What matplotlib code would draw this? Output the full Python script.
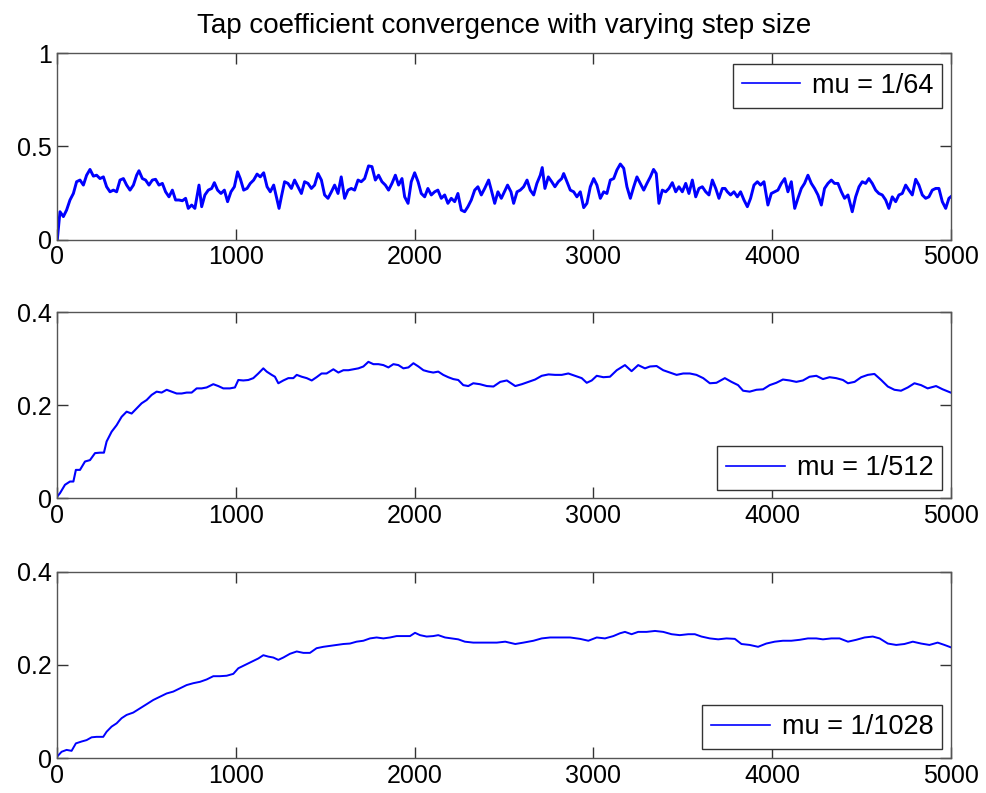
import numpy as np
import matplotlib
matplotlib.use("Agg")
import matplotlib.pyplot as plt

plt.rcParams['font.family'] = ['Liberation Sans', 'DejaVu Sans']

# ------------------------------------------
# data (iteration, tap value)
# ------------------------------------------
x_fast = [0, 15, 34, 52, 71, 90, 108, 127, 146, 164, 183, 202, 220, 239, 258, 276, 295, 314,
          332, 351, 370, 388, 407, 426, 444, 457, 476, 494, 513, 532, 550, 569, 588, 606, 625,
          644, 662, 681, 700, 718, 733, 752, 770, 793, 808, 826, 845, 864, 879, 897, 916, 935,
          953, 972, 991, 1009, 1024, 1043, 1062, 1080, 1099, 1118, 1136, 1155, 1174, 1192,
          1211, 1230, 1241, 1254, 1272, 1291, 1310, 1328, 1347, 1366, 1384, 1403, 1422, 1440,
          1459, 1478, 1496, 1515, 1534, 1552, 1571, 1589, 1608, 1627, 1645, 1664, 1683, 1701,
          1720, 1742, 1761, 1780, 1798, 1817, 1836, 1854, 1873, 1892, 1910, 1929, 1944, 1963,
          1981, 2000, 2019, 2037, 2056, 2074, 2093, 2112, 2130, 2149, 2168, 2186, 2205, 2224,
          2242, 2261, 2280, 2298, 2317, 2336, 2354, 2373, 2392, 2414, 2429, 2448, 2466, 2485,
          2502, 2520, 2539, 2554, 2573, 2591, 2610, 2629, 2647, 2666, 2684, 2703, 2714, 2729,
          2748, 2767, 2785, 2804, 2823, 2834, 2852, 2871, 2890, 2908, 2927, 2946, 2964, 2983,
          3002, 3020, 3039, 3058, 3076, 3095, 3114, 3132, 3151, 3170, 3188, 3207, 3226, 3244,
          3263, 3282, 3300, 3319, 3337, 3352, 3367, 3386, 3405, 3423, 3442, 3461, 3479, 3498,
          3517, 3535, 3554, 3573, 3591, 3610, 3629, 3647, 3666, 3685, 3703, 3722, 3737, 3750,
          3768, 3787, 3806, 3824, 3843, 3862, 3880, 3899, 3918, 3936, 3955, 3977, 3996, 4015,
          4033, 4052, 4071, 4089, 4108, 4127, 4145, 4164, 4182, 4201, 4220, 4238, 4257, 4276,
          4294, 4313, 4332, 4350, 4369, 4388, 4406, 4425, 4449, 4468, 4487, 4505, 4524, 4542,
          4561, 4580, 4598, 4617, 4636, 4654, 4673, 4692, 4710, 4729, 4748, 4766, 4785, 4804,
          4822, 4841, 4860, 4878, 4897, 4916, 4934, 4953, 4972, 4990, 5000]
y_fast = [0.0, 0.15, 0.124, 0.159, 0.213, 0.248, 0.311, 0.320, 0.293, 0.346, 0.377, 0.341,
          0.346, 0.328, 0.337, 0.284, 0.257, 0.266, 0.257, 0.320, 0.328, 0.293, 0.266, 0.293,
          0.346, 0.370, 0.328, 0.320, 0.293, 0.320, 0.324, 0.293, 0.302, 0.257, 0.230, 0.266,
          0.213, 0.213, 0.209, 0.222, 0.168, 0.186, 0.168, 0.293, 0.177, 0.240, 0.266, 0.275,
          0.306, 0.266, 0.248, 0.266, 0.204, 0.257, 0.284, 0.364, 0.328, 0.266, 0.275, 0.302,
          0.320, 0.352, 0.337, 0.359, 0.284, 0.257, 0.293, 0.213, 0.168, 0.230, 0.311, 0.302,
          0.275, 0.320, 0.284, 0.248, 0.311, 0.302, 0.275, 0.293, 0.355, 0.320, 0.240, 0.222,
          0.257, 0.293, 0.248, 0.337, 0.222, 0.266, 0.275, 0.266, 0.320, 0.311, 0.328, 0.396,
          0.392, 0.320, 0.346, 0.311, 0.293, 0.266, 0.302, 0.346, 0.293, 0.328, 0.230, 0.195,
          0.311, 0.359, 0.311, 0.248, 0.230, 0.275, 0.240, 0.257, 0.266, 0.222, 0.240, 0.195,
          0.222, 0.204, 0.248, 0.159, 0.150, 0.177, 0.213, 0.266, 0.284, 0.240, 0.275, 0.320,
          0.266, 0.195, 0.257, 0.222, 0.257, 0.293, 0.257, 0.195, 0.257, 0.266, 0.284, 0.320,
          0.266, 0.240, 0.302, 0.346, 0.387, 0.275, 0.337, 0.311, 0.284, 0.311, 0.328, 0.355,
          0.311, 0.266, 0.257, 0.230, 0.257, 0.172, 0.195, 0.284, 0.328, 0.293, 0.222, 0.257,
          0.248, 0.320, 0.328, 0.374, 0.406, 0.383, 0.284, 0.222, 0.284, 0.337, 0.302, 0.266,
          0.302, 0.337, 0.377, 0.355, 0.195, 0.266, 0.257, 0.275, 0.306, 0.257, 0.284, 0.257,
          0.302, 0.248, 0.320, 0.230, 0.275, 0.284, 0.257, 0.240, 0.320, 0.275, 0.222, 0.275,
          0.275, 0.257, 0.240, 0.257, 0.230, 0.257, 0.213, 0.177, 0.222, 0.293, 0.311, 0.293,
          0.311, 0.186, 0.248, 0.257, 0.266, 0.302, 0.328, 0.257, 0.311, 0.168, 0.222, 0.275,
          0.302, 0.346, 0.302, 0.275, 0.240, 0.186, 0.275, 0.302, 0.320, 0.302, 0.302, 0.257,
          0.222, 0.240, 0.150, 0.230, 0.284, 0.311, 0.302, 0.328, 0.302, 0.266, 0.248, 0.240,
          0.213, 0.168, 0.230, 0.204, 0.240, 0.248, 0.293, 0.266, 0.240, 0.324, 0.293, 0.240,
          0.222, 0.230, 0.266, 0.275, 0.275, 0.204, 0.168, 0.222, 0.230]

x_mid = [0, 15, 43, 71, 90, 104, 127, 155, 183, 211, 239, 261, 276, 304, 332, 360, 388, 416,
         444, 472, 500, 528, 556, 584, 612, 640, 668, 696, 724, 752, 780, 808, 836, 873, 901,
         929, 966, 994, 1013, 1041, 1069, 1097, 1125, 1153, 1172, 1200, 1218, 1237, 1265, 1293,
         1321, 1340, 1368, 1396, 1424, 1451, 1479, 1507, 1545, 1573, 1601, 1629, 1657, 1685,
         1713, 1741, 1769, 1797, 1825, 1853, 1881, 1909, 1937, 1965, 1993, 2021, 2049, 2077,
         2104, 2132, 2160, 2188, 2216, 2244, 2272, 2300, 2328, 2365, 2404, 2441, 2479, 2516,
         2563, 2600, 2637, 2674, 2711, 2749, 2786, 2823, 2860, 2898, 2935, 2963, 2991, 3019,
         3056, 3093, 3131, 3177, 3214, 3251, 3289, 3317, 3354, 3391, 3428, 3466, 3503, 3540,
         3577, 3615, 3652, 3689, 3736, 3773, 3810, 3838, 3875, 3913, 3950, 3987, 4024, 4061,
         4099, 4136, 4173, 4210, 4248, 4285, 4322, 4359, 4397, 4425, 4462, 4499, 4536, 4573,
         4611, 4648, 4685, 4722, 4760, 4797, 4834, 4871, 4918, 4955, 5000]
y_mid = [0.004, 0.011, 0.029, 0.036, 0.036, 0.061, 0.061, 0.079, 0.082, 0.097, 0.098, 0.098,
         0.122, 0.143, 0.157, 0.175, 0.186, 0.182, 0.193, 0.204, 0.211, 0.222, 0.229, 0.227,
         0.233, 0.229, 0.225, 0.225, 0.227, 0.227, 0.236, 0.236, 0.238, 0.245, 0.241, 0.236,
         0.236, 0.238, 0.254, 0.253, 0.254, 0.258, 0.268, 0.279, 0.272, 0.265, 0.261, 0.247,
         0.253, 0.258, 0.258, 0.265, 0.261, 0.258, 0.253, 0.260, 0.268, 0.268, 0.277, 0.270,
         0.275, 0.275, 0.277, 0.279, 0.283, 0.293, 0.288, 0.288, 0.286, 0.281, 0.288, 0.286,
         0.279, 0.281, 0.290, 0.283, 0.275, 0.272, 0.270, 0.272, 0.265, 0.260, 0.256, 0.254,
         0.243, 0.241, 0.247, 0.245, 0.241, 0.240, 0.250, 0.253, 0.241, 0.245, 0.250, 0.255,
         0.263, 0.266, 0.265, 0.265, 0.268, 0.263, 0.258, 0.248, 0.253, 0.263, 0.260, 0.261,
         0.275, 0.286, 0.273, 0.286, 0.279, 0.283, 0.284, 0.275, 0.270, 0.265, 0.268, 0.268,
         0.265, 0.258, 0.247, 0.248, 0.258, 0.250, 0.243, 0.231, 0.229, 0.233, 0.234, 0.243,
         0.248, 0.255, 0.253, 0.250, 0.253, 0.261, 0.263, 0.256, 0.260, 0.258, 0.254, 0.247,
         0.250, 0.260, 0.265, 0.267, 0.254, 0.240, 0.233, 0.231, 0.238, 0.247, 0.243, 0.236,
         0.241, 0.234, 0.227]

x_slow = [0, 24, 52, 80, 104, 136, 164, 192, 220, 257, 276, 304, 332, 360, 388, 425, 463,
          500, 537, 575, 612, 649, 687, 724, 761, 799, 836, 873, 910, 948, 985, 1013, 1050,
          1088, 1125, 1153, 1181, 1209, 1237, 1265, 1302, 1340, 1377, 1414, 1451, 1489, 1526,
          1563, 1601, 1638, 1675, 1713, 1750, 1787, 1825, 1862, 1899, 1937, 1974, 2002, 2030,
          2067, 2104, 2132, 2170, 2207, 2244, 2281, 2328, 2375, 2414, 2460, 2507, 2563, 2609,
          2665, 2711, 2758, 2814, 2870, 2926, 2972, 3019, 3065, 3112, 3149, 3177, 3214, 3251,
          3298, 3345, 3391, 3438, 3484, 3531, 3568, 3605, 3652, 3699, 3745, 3792, 3829, 3875,
          3922, 3968, 4015, 4061, 4108, 4155, 4201, 4248, 4285, 4332, 4378, 4425, 4471, 4518,
          4564, 4602, 4648, 4695, 4741, 4788, 4834, 4881, 4927, 4965, 5000]
y_slow = [0.004, 0.014, 0.018, 0.016, 0.032, 0.036, 0.039, 0.045, 0.046, 0.046, 0.057, 0.068,
          0.075, 0.086, 0.093, 0.098, 0.107, 0.116, 0.125, 0.132, 0.139, 0.143, 0.150, 0.157,
          0.161, 0.164, 0.169, 0.176, 0.176, 0.177, 0.181, 0.193, 0.200, 0.207, 0.214, 0.221,
          0.218, 0.216, 0.211, 0.216, 0.224, 0.229, 0.226, 0.226, 0.236, 0.239, 0.241, 0.243,
          0.245, 0.246, 0.250, 0.252, 0.257, 0.259, 0.257, 0.259, 0.262, 0.262, 0.262, 0.269,
          0.264, 0.261, 0.262, 0.264, 0.259, 0.257, 0.255, 0.250, 0.248, 0.248, 0.248, 0.248,
          0.250, 0.245, 0.248, 0.252, 0.257, 0.259, 0.259, 0.259, 0.256, 0.252, 0.259, 0.257,
          0.262, 0.268, 0.271, 0.266, 0.271, 0.271, 0.273, 0.271, 0.266, 0.264, 0.266, 0.266,
          0.261, 0.257, 0.255, 0.257, 0.256, 0.245, 0.243, 0.239, 0.246, 0.250, 0.252, 0.252,
          0.254, 0.257, 0.257, 0.255, 0.257, 0.257, 0.250, 0.254, 0.259, 0.261, 0.257, 0.246,
          0.243, 0.245, 0.250, 0.246, 0.243, 0.248, 0.243, 0.238]

labels = ['mu = 1/64', 'mu = 1/512', 'mu = 1/1028']
ylims = [(0, 1), (0, 0.4), (0, 0.4)]
yticks = [[0, 0.5, 1], [0, 0.2, 0.4], [0, 0.2, 0.4]]
ytick_labels = [['0', '0.5', '1'], ['0', '0.2', '0.4'], ['0', '0.2', '0.4']]
xticks = [0, 1000, 2000, 3000, 4000, 5000]

series = [(x_fast, y_fast), (x_mid, y_mid), (x_slow, y_slow)]

# ------------------------------------------
fig = plt.figure(figsize=(9.86, 7.93), dpi=100)

W, H = 986.0, 793.0
left, right = 57.3, 950.7
tops = [53.3, 312.0, 571.7]
bots = [239.7, 498.3, 758.3]
leg_loc = ['upper right', 'lower right', 'lower right']
leg_anchor = [(1 - 8.4 / 893.4, 1 - 10.7 / 186.4),
              (1 - 8.4 / 893.4, 8.3 / 186.3),
              (1 - 8.4 / 893.4, 9.3 / 186.6)]
lws = [2.1, 1.5, 1.4]

for k in range(3):
    ax = fig.add_axes([left / W, 1 - bots[k] / H, (right - left) / W, (bots[k] - tops[k]) / H])
    xs, ys = series[k]
    ax.plot(xs, ys, color='#0000ff', lw=lws[k], label=labels[k])
    ax.set_xlim(0, 5000)
    ax.set_ylim(*ylims[k])
    ax.set_xticks(xticks)
    ax.set_xticklabels([str(v) for v in xticks])
    ax.set_yticks(yticks[k])
    ax.set_yticklabels(ytick_labels[k])
    ax.tick_params(direction='in', length=8, width=1, color='#333333',
                   top=True, right=True, labelsize=18, pad=4)
    for sp in ax.spines.values():
        sp.set_color('#555555')
        sp.set_linewidth(1)
    leg = ax.legend(loc=leg_loc[k], bbox_to_anchor=leg_anchor[k], borderaxespad=0,
                    fontsize=19.5, fancybox=False, framealpha=1, edgecolor='#333333',
                    handlelength=2.15, handletextpad=0.45, borderpad=0.33)
    leg.get_frame().set_linewidth(1)
    for ln in leg.get_lines():
        ln.set_linewidth(1.2)

fig.text(504 / W, 1 - 33 / H, 'Tap coefficient convergence with varying step size',
         ha='center', va='baseline', fontsize=20)

plt.savefig('out.png', dpi=100)
